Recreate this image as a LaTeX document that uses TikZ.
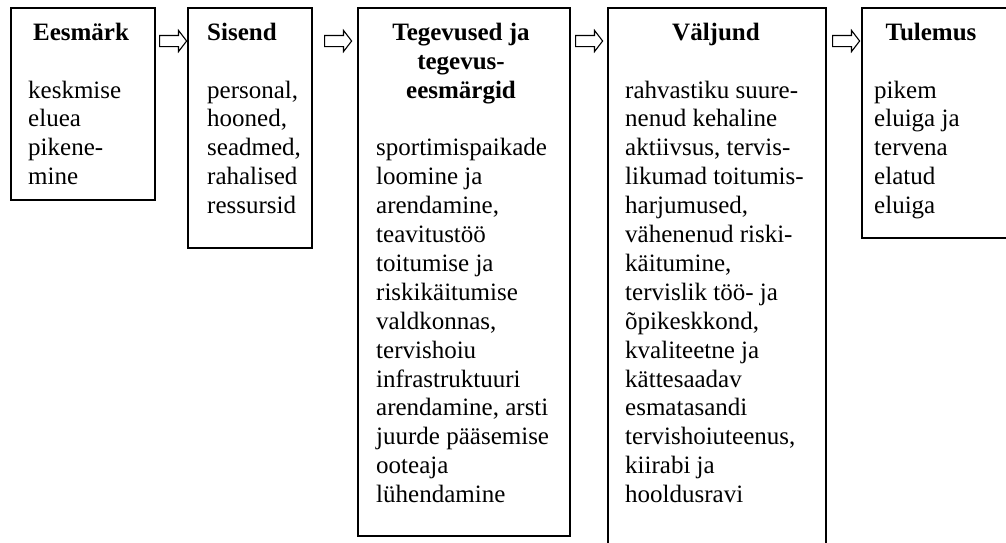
\documentclass[tikz,border=0pt]{standalone}
\usepackage{fontspec}
\setmainfont{Liberation Serif}
\usepackage{tikz}
\usetikzlibrary{shapes.arrows}
\newcommand{\boxfont}{\fontsize{25}{28.9}\selectfont}

\begin{document}
\begin{tikzpicture}[x=1pt, y=-1pt, font=\boxfont,
  box/.style={draw, line width=1.8pt, inner sep=0pt, anchor=north west},
  head/.style={font=\boxfont\bfseries, inner sep=0pt, anchor=north, align=center},
  body/.style={inner sep=0pt, anchor=north west, align=left},
  harrow/.style={single arrow, draw, line width=1.1pt, inner xsep=0pt, inner ysep=5pt,
    minimum height=27pt, single arrow head extend=5pt, single arrow tip angle=105}]
  \useasboundingbox (0,0) rectangle (1006,542);
  % boxes
  \node[box, minimum width=144pt, minimum height=192pt] (eesmark) at (10,7) {};
  \node[box, minimum width=124pt, minimum height=240pt] (sisend) at (187,7) {};
  \node[box, minimum width=212pt, minimum height=528pt] (tegevused) at (357,7) {};
  \node[box, minimum width=218pt, minimum height=545pt] (valjund) at (607,7) {};
  \node[box, minimum width=150pt, minimum height=230pt] (tulemus) at (861,7) {};
  % arrows between the boxes
  \node[harrow] (arr1) at (171,41) {};
  \node[harrow] (arr2) at (336,41) {};
  \node[harrow] (arr3) at (587,41) {};
  \node[harrow] (arr4) at (844,41) {};
  % headings
  \node[head] (eesmarkhead) at (81,19.8) {\strut Eesmärk};
  \node[head, anchor=north west] (sisendhead) at (207,19.8) {\strut Sisend};
  \node[head] (tegevusedhead) at (461,19.8) {\strut Tegevused ja\\ tegevus-\\ eesmärgid};
  \node[head] (valjundhead) at (716,19.8) {\strut Väljund};
  \node[head] (tulemushead) at (931,19.8) {\strut Tulemus};
  % texts
  \node[body] (eesmarktext) at (28,77.6) {\strut keskmise\\ eluea\\ pikene-\\ mine};
  \node[body] (sisendtext) at (207,77.6) {\strut personal,\\ hooned,\\ seadmed,\\ rahalised\\ ressursid};
  \node[body] (tegevusedtext) at (376,135.4) {\strut sportimispaikade\\ loomine ja\\ arendamine,\\ teavitustöö\\ toitumise ja\\ riskikäitumise\\ valdkonnas,\\ tervishoiu\\ infrastruktuuri\\ arendamine, arsti\\ juurde pääsemise\\ ooteaja\\ lühendamine};
  \node[body] (valjundtext) at (625,77.6) {\strut rahvastiku suure-\\ nenud kehaline\\ aktiivsus, tervis-\\ likumad toitumis-\\ harjumused,\\ vähenenud riski-\\ käitumine,\\ tervislik töö- ja\\ õpikeskkond,\\ kvaliteetne ja\\ kättesaadav\\ esmatasandi\\ tervishoiuteenus,\\ kiirabi ja\\ hooldusravi};
  \node[body] (tulemustext) at (874,77.6) {\strut pikem\\ eluiga ja\\ tervena\\ elatud\\ eluiga};
\end{tikzpicture}
\end{document}
